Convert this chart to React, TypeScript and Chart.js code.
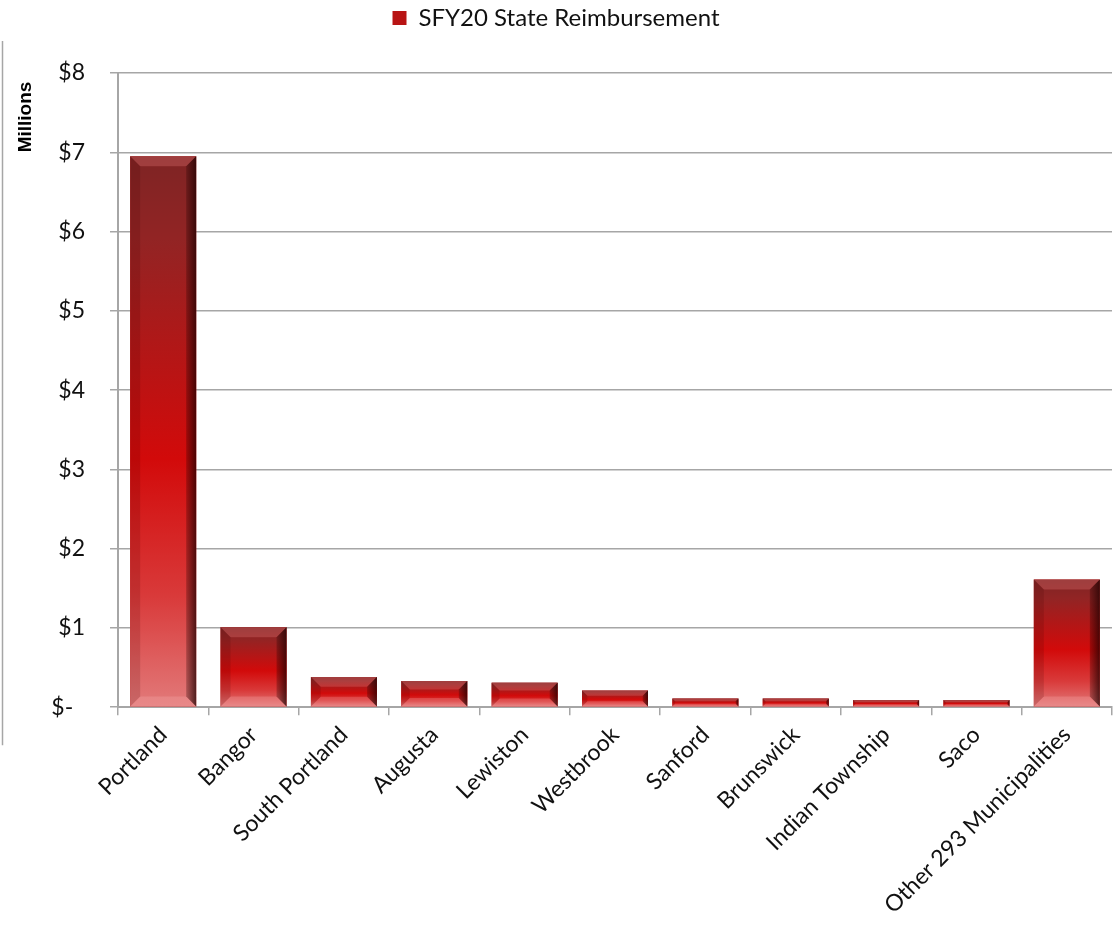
import React, { useEffect, useRef } from "react";
import { Chart, registerables } from "chart.js";

Chart.register(...registerables);

const categories = [
  "Portland",
  "Bangor",
  "South Portland",
  "Augusta",
  "Lewiston",
  "Westbrook",
  "Sanford",
  "Brunswick",
  "Indian Township",
  "Saco",
  "Other 293 Municipalities",
];
const reimbursement = [6.95, 1.01, 0.38, 0.33, 0.31, 0.21, 0.11, 0.11, 0.09, 0.09, 1.61];
const seriesLabel = "SFY20 State Reimbursement";
const yAxisTitle = "Millions";
const yTickLabels: Record<number, string> = {
  0: "$-  ",
  1: "$1",
  2: "$2",
  3: "$3",
  4: "$4",
  5: "$5",
  6: "$6",
  7: "$7",
  8: "$8",
};

const FONT = "Lato, 'Open Sans', sans-serif";

const bevelPlugin = {
  id: "bevelBars",
  beforeInit(chart: any) {
    const legend = chart.legend;
    if (legend) {
      const fit = legend.fit;
      legend.fit = function () {
        fit.call(this);
        this.height += 33;
      };
    }
  },
  afterDatasetsDraw(chart: any) {
    const ctx = chart.ctx;
    const meta = chart.getDatasetMeta(0);
    meta.data.forEach((bar: any) => {
      const { x, y, base, width } = bar.getProps(["x", "y", "base", "width"], true);
      const x0 = x - width / 2;
      const x1 = x + width / 2;
      const yT = Math.min(y, base);
      const yB = Math.max(y, base);
      const h = yB - yT;
      if (h <= 0) return;
      ctx.save();
      const g = ctx.createLinearGradient(0, yT, 0, yB);
      g.addColorStop(0, "#7e2424");
      g.addColorStop(0.15, "#922424");
      g.addColorStop(0.55, "#d20a0a");
      g.addColorStop(0.8, "#d93a3a");
      g.addColorStop(1, "#e27a7a");
      ctx.fillStyle = g;
      ctx.fillRect(x0, yT, width, h);
      const b = Math.min(10, h / 3);
      // top bevel
      ctx.beginPath();
      ctx.moveTo(x0, yT);
      ctx.lineTo(x1, yT);
      ctx.lineTo(x1 - b, yT + b);
      ctx.lineTo(x0 + b, yT + b);
      ctx.closePath();
      ctx.fillStyle = "rgba(255,140,140,0.25)";
      ctx.fill();
      // bottom bevel
      ctx.beginPath();
      ctx.moveTo(x0, yB);
      ctx.lineTo(x1, yB);
      ctx.lineTo(x1 - b, yB - b);
      ctx.lineTo(x0 + b, yB - b);
      ctx.closePath();
      ctx.fillStyle = "rgba(255,190,190,0.22)";
      ctx.fill();
      // left bevel
      ctx.beginPath();
      ctx.moveTo(x0, yT);
      ctx.lineTo(x0 + b, yT + b);
      ctx.lineTo(x0 + b, yB - b);
      ctx.lineTo(x0, yB);
      ctx.closePath();
      ctx.fillStyle = "rgba(60,0,0,0.15)";
      ctx.fill();
      // right bevel
      ctx.beginPath();
      ctx.moveTo(x1, yT);
      ctx.lineTo(x1 - b, yT + b);
      ctx.lineTo(x1 - b, yB - b);
      ctx.lineTo(x1, yB);
      ctx.closePath();
      const rg = ctx.createLinearGradient(x1 - b, 0, x1, 0);
      rg.addColorStop(0, "rgba(30,0,0,0.25)");
      rg.addColorStop(1, "rgba(30,0,0,0.75)");
      ctx.fillStyle = rg;
      ctx.fill();
      ctx.restore();
    });
  },
  afterDraw(chart: any) {
    const ctx = chart.ctx;
    const area = chart.chartArea;
    ctx.save();
    // frame line at far left
    ctx.strokeStyle = "#a6a6a6";
    ctx.lineWidth = 1.5;
    ctx.beginPath();
    ctx.moveTo(2.5, area.top - 32);
    ctx.lineTo(2.5, area.bottom + 38);
    ctx.stroke();
    // y axis title, rotated at the top of the axis
    ctx.translate(26, area.top + 44);
    ctx.rotate(-Math.PI / 2);
    ctx.fillStyle = "#000";
    ctx.font = "bold 19px 'Liberation Sans', Arial, sans-serif";
    ctx.textAlign = "center";
    ctx.textBaseline = "middle";
    ctx.fillText(yAxisTitle, 0, 0);
    ctx.restore();
  },
};

export default function App() {
  const ref = useRef<HTMLCanvasElement>(null);
  useEffect(() => {
    if (!ref.current) return;
    const chart = new Chart(ref.current, {
      type: "bar",
      data: {
        labels: categories,
        datasets: [
          {
            label: seriesLabel,
            data: reimbursement,
            backgroundColor: "#b81414",
            barPercentage: 0.73,
            categoryPercentage: 1,
          },
        ],
      },
      options: {
        animation: false,
        responsive: false,
        maintainAspectRatio: false,
        layout: { padding: { left: 0, right: 5, top: 0, bottom: 9 } },
        plugins: {
          tooltip: { enabled: false },
          legend: {
            position: "top",
            labels: {
              boxWidth: 14,
              boxHeight: 14,
              padding: 6,
              color: "#111",
              font: { family: FONT, size: 24 },
            },
          },
        },
        scales: {
          x: {
            grid: {
              display: true,
              drawOnChartArea: false,
              drawTicks: true,
              tickLength: 8,
              color: "#a6a6a6",
              lineWidth: 1.5,
              offset: true,
            },
            border: { color: "#a6a6a6", width: 2 },
            ticks: {
              minRotation: 45,
              maxRotation: 45,
              color: "#111",
              padding: 6,
              font: { family: FONT, size: 23 },
            },
          },
          y: {
            min: 0,
            max: 8,
            afterFit: (scale: any) => {
              scale.width = 118;
            },
            ticks: {
              stepSize: 1,
              color: "#111",
              padding: 25,
              font: { family: FONT, size: 23 },
              callback: (v: any) => yTickLabels[v as number] ?? "",
            },
            grid: { color: "#a6a6a6", lineWidth: 1.5, tickLength: 8 },
            border: { color: "#a6a6a6", width: 2 },
          },
        },
      },
      plugins: [bevelPlugin],
    });
    return () => chart.destroy();
  }, []);
  return (
    <div style={{ position: "absolute", left: 0, top: 0, width: 1117, height: 934 }}>
      <canvas ref={ref} width={1117} height={934} style={{ width: 1117, height: 934 }} />
    </div>
  );
}
